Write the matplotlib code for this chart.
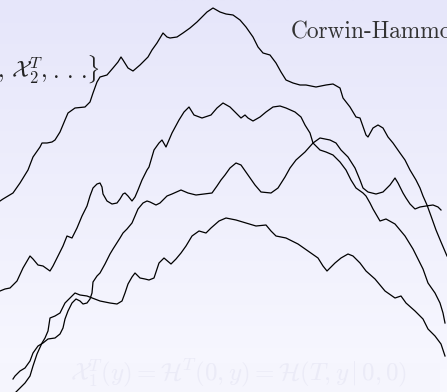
import numpy as np
import matplotlib
matplotlib.use('Agg')
import matplotlib.pyplot as plt
from matplotlib.colors import LinearSegmentedColormap
from matplotlib.patches import Rectangle

plt.rcParams['mathtext.fontset'] = 'cm'

# top four lines of the KPZ line ensemble: position y and height
a_pos = [0, 3, 8, 13, 20, 28, 33, 40, 42, 47, 52, 55, 60, 65, 68, 75, 85, 90, 93, 97,
         100, 107, 113, 118, 121, 123, 128, 133, 140, 148, 152, 157, 163, 167, 170, 177, 183, 190, 197, 202,
         207, 213, 220, 226, 233, 240, 246, 253, 258, 263, 270, 276, 281, 286, 293, 300, 306, 316, 326, 333,
         340, 343, 350, 356, 360, 366, 368, 373, 378, 383, 388, 393, 400, 405, 410, 416, 420, 423, 427, 431,
         436, 441, 447]
a_h = [191, 193, 196, 199, 209, 222, 235, 245, 249, 249, 250, 252, 260, 272, 279, 284, 285, 290, 299, 310,
       315, 317, 324, 330, 335, 332, 324, 321, 327, 335, 342, 349, 359, 355, 354, 355, 359, 364, 370, 375,
       380, 384, 380, 378, 377, 372, 365, 355, 345, 339, 337, 329, 320, 312, 309, 307, 307, 305, 307, 308,
       304, 294, 285, 275, 274, 257, 255, 264, 267, 264, 255, 249, 239, 232, 222, 212, 204, 196, 187, 176,
       162, 150, 136]

c_pos = [0, 5, 10, 17, 23, 30, 33, 38, 43, 50, 53, 58, 63, 67, 72, 77, 82, 87, 90, 93,
         97, 100, 102, 103, 107, 112, 117, 120, 123, 125, 128, 132, 135, 138, 142, 147, 149, 154, 159, 162,
         166, 172, 179, 184, 189, 194, 202, 211, 217, 223, 230, 236, 241, 245, 248, 253, 260, 266, 273, 280,
         286, 295, 301, 305, 310, 313, 320, 326, 333, 340, 346, 351, 356, 363, 366, 370, 373, 380, 386, 395,
         405, 413, 418, 423, 428, 435, 440, 443, 445]
c_h = [101, 103, 104, 111, 124, 136, 133, 127, 126, 121, 126, 136, 146, 156, 154, 164, 176, 186, 196, 204,
       208, 209, 205, 198, 191, 188, 189, 193, 198, 199, 196, 191, 195, 202, 212, 222, 225, 242, 249, 252,
       245, 259, 272, 280, 285, 277, 274, 277, 284, 289, 285, 279, 274, 277, 274, 271, 275, 280, 285, 286,
       284, 280, 275, 267, 259, 249, 242, 240, 237, 230, 222, 212, 204, 199, 196, 189, 183, 171, 173, 168,
       156, 143, 133, 123, 109, 99, 89, 79, 69]

d_pos = [13, 15, 20, 25, 30, 33, 38, 43, 48, 55, 60, 63, 65, 68, 72, 76, 80, 83, 87, 90,
         92, 93, 97, 100, 105, 110, 113, 120, 123, 127, 132, 135, 138, 143, 147, 150, 156, 160, 164, 167,
         172, 181, 188, 196, 204, 212, 217, 221, 225, 230, 236, 241, 248, 255, 261, 271, 278, 285, 290, 296,
         305, 313, 320, 330, 336, 341, 348, 355, 360, 363, 368, 376, 383, 390, 395, 398, 403, 406, 410, 415,
         420, 426, 433, 438, 441]
d_h = [13, 16, 21, 24, 31, 39, 46, 49, 53, 54, 58, 64, 73, 81, 89, 93, 91, 88, 89, 93,
       99, 110, 116, 119, 128, 138, 143, 154, 159, 163, 169, 176, 183, 189, 191, 190, 187, 189, 193, 196,
       198, 202, 199, 197, 198, 199, 206, 212, 217, 224, 229, 227, 217, 207, 200, 199, 204, 215, 224, 232,
       240, 249, 254, 252, 249, 242, 235, 224, 212, 204, 200, 198, 200, 207, 214, 209, 199, 194, 188, 183,
       185, 186, 187, 185, 182]

e_pos = [16, 20, 25, 30, 33, 37, 42, 45, 48, 50, 55, 60, 65, 70, 75, 80, 87, 100, 110, 117,
         122, 125, 128, 132, 135, 140, 145, 149, 154, 159, 164, 171, 176, 181, 186, 192, 199, 206, 211, 219,
         226, 236, 246, 256, 266, 271, 276, 286, 298, 308, 318, 323, 327, 335, 341, 348, 353, 360, 366, 375,
         385, 395, 401, 406, 415, 423, 428, 435, 441, 445]
e_h = [0, 4, 9, 16, 26, 38, 49, 54, 61, 74, 76, 79, 89, 94, 99, 97, 96, 91, 89, 88,
       91, 99, 108, 115, 119, 114, 113, 112, 114, 129, 134, 128, 133, 139, 146, 156, 161, 159, 164, 171,
       174, 172, 169, 166, 167, 161, 156, 154, 148, 141, 134, 126, 121, 129, 134, 138, 136, 129, 121, 113,
       101, 94, 96, 89, 81, 73, 63, 56, 48, 36]

W, H = 447, 392

fig = plt.figure(figsize=(W / 100, H / 100), dpi=100)
ax = fig.add_axes([0, 0, 1, 1])
ax.set_xlim(0, W)
ax.set_ylim(0, H)
ax.axis('off')

# slide background, lavender fading to white
bg = LinearSegmentedColormap.from_list('bg', ['#f8f8ff', '#e6e6fa'])
grad = np.linspace(0, 1, 256).reshape(-1, 1)
ax.imshow(grad, cmap=bg, extent=[0, W, 0, H], origin='lower', aspect='auto', zorder=0)

# faint formula box at the bottom
ax.add_patch(Rectangle((0, 0), 440, 29, facecolor='#f5f5fd', edgecolor='none', zorder=1))
ax.text(70, 12, r'$\mathcal{X}_1^T(y) = \mathcal{H}^T(0,y) = \mathcal{H}(T,y\,|\,0,0)$',
        fontsize=18, color='#ebebf7', ha='left', va='baseline', zorder=2)

for xs, hs in [(a_pos, a_h), (c_pos, c_h), (d_pos, d_h), (e_pos, e_h)]:
    ax.plot(xs, hs, color='black', lw=0.9, zorder=3)

# set label in three pieces: elements, dots, closing brace
lab = dict(fontsize=17, va='baseline', color='#222222', zorder=4)
ax.text(48, 314, r'$\{\mathcal{X}_1^T,\,\mathcal{X}_2^T,$', ha='right', **lab)
ax.text(52, 314, r'$.\,.\,.$', ha='left', **lab)
ax.text(99, 314, r'$\}$', ha='right', **lab)
ax.text(291, 354, 'Corwin-Hammond', fontfamily='cmr10', fontsize=16.8,
        ha='left', va='baseline', color='#333333', zorder=4)

fig.savefig('out.png', dpi=100)
